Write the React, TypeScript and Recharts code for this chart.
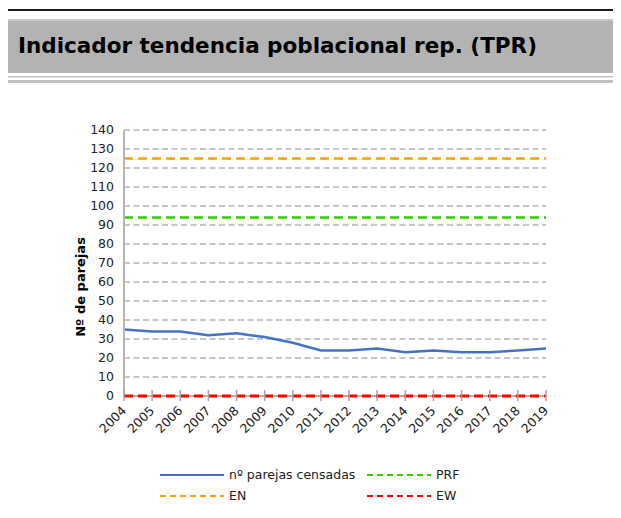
import React from "react";
import { CartesianGrid, Line, LineChart, XAxis, YAxis } from "recharts";

const years = ["2004", "2005", "2006", "2007", "2008", "2009", "2010", "2011", "2012", "2013", "2014", "2015", "2016", "2017", "2018", "2019"];
const parejasCensadas = [35, 34, 34, 32, 33, 31, 28, 24, 24, 25, 23, 24, 23, 23, 24, 25];
const prfValue = 94;
const enValue = 125;
const ewValue = 0;
const yTicks = [0, 10, 20, 30, 40, 50, 60, 70, 80, 90, 100, 110, 120, 130, 140];

const data = years.map((year, i) => ({
    year,
    censadas: parejasCensadas[i],
    PRF: prfValue,
    EN: enValue,
    EW: ewValue,
}));

const FONT = "'DejaVu Sans', Verdana, sans-serif";

const XTick = (props: any) => {
    const { x, y, payload } = props;
    const tx = x + 3;
    const ty = y + 15.5;
    return (
        <g>
            <line x1={x} x2={x} y1={y - 6} y2={y + 5} stroke="#a6a6a6" strokeWidth={1.5} />
            <text x={tx} y={ty} textAnchor="end" fontSize={12.5} fontFamily={FONT} fill="#222" transform={`rotate(-45, ${tx}, ${ty})`}>
                {payload.value}
            </text>
        </g>
    );
};

const YLabel = (props: any) => {
    const vb = props.viewBox;
    const cx = vb.x - 3;
    const cy = vb.y + vb.height * 0.59;
    return (
        <text x={cx} y={cy} textAnchor="middle" dominantBaseline="central" fontSize={13} fontWeight="bold" fontFamily={FONT} fill="#000" transform={`rotate(-90, ${cx}, ${cy})`}>
            Nº de parejas
        </text>
    );
};

const LegendEntry = ({ left, top, color, dash, label }: any) => (
    <div style={{ position: "absolute", left, top, display: "flex", alignItems: "center", fontFamily: FONT, fontSize: 12.5, color: "#222", whiteSpace: "nowrap" }}>
        <svg width={64} height={6} style={{ marginRight: 5 }}>
            <line x1={0} x2={64} y1={3} y2={3} stroke={color} strokeWidth={2} strokeDasharray={dash} />
        </svg>
        {label}
    </div>
);

const App = () => {
    return (
        <div style={{ position: "relative", width: 621, height: 518, margin: -8, background: "#fff", overflow: "hidden" }}>
            <svg width={621} height={90} style={{ position: "absolute", left: 0, top: 0 }}>
                <rect x={0} y={9} width={621} height={2} fill="#1a1a1a" />
                <rect x={0} y={19} width={621} height={2} fill="#c9c9c9" />
                <rect x={0} y={21} width={621} height={52} fill="#b3b3b3" />
                <rect x={0} y={76} width={621} height={1.5} fill="#c2c2c2" />
                <rect x={0} y={80} width={621} height={3} fill="#c2c2c2" />
                <text x={18} y={53} fontSize={21.5} fontWeight="bold" fontFamily="'DejaVu Sans', sans-serif" fill="#000">
                    Indicador tendencia poblacional rep. (TPR)
                </text>
            </svg>
            <div style={{ position: "absolute", left: 0, top: 0 }}>
                <LineChart width={621} height={518} data={data} margin={{ top: 130, right: 75, left: 84, bottom: 82 }}>
                    <CartesianGrid vertical={false} stroke="#8f8f8f" strokeDasharray="6 3.5" />
                    <XAxis dataKey="year" height={40} tickLine={false} tickSize={0} tickMargin={0} interval={0} stroke="#a6a6a6" strokeWidth={1.5} tick={<XTick />} />
                    <YAxis
                        width={40}
                        domain={[0, 140]}
                        ticks={yTicks}
                        interval={0}
                        tickLine={false}
                        tickMargin={4}
                        stroke="#b5b5b5"
                        strokeWidth={2}
                        tick={{ fontSize: 12.5, fontFamily: FONT, fill: "#222" }}
                        label={<YLabel />}
                    />
                    <Line dataKey="EN" stroke="#ff9f1a" strokeWidth={2.5} strokeDasharray="9 5" dot={false} isAnimationActive={false} />
                    <Line dataKey="PRF" stroke="#33cc00" strokeWidth={2.5} strokeDasharray="9 5" dot={false} isAnimationActive={false} />
                    <Line dataKey="censadas" stroke="#4472c4" strokeWidth={2.5} dot={false} isAnimationActive={false} type="linear" />
                    <Line {...({ zIndex: 900 } as any)} dataKey="EW" stroke="#ff0000" strokeWidth={3} strokeDasharray="9 5" dot={false} isAnimationActive={false} />
                </LineChart>
            </div>
            <LegendEntry left={160} top={467} color="#4472c4" label="nº parejas censadas" />
            <LegendEntry left={367} top={467} color="#33cc00" dash="6 4" label="PRF" />
            <LegendEntry left={160} top={488} color="#ff9f1a" dash="6 4" label="EN" />
            <LegendEntry left={367} top={488} color="#ff0000" dash="6 4" label="EW" />
        </div>
    );
};

export default App;
